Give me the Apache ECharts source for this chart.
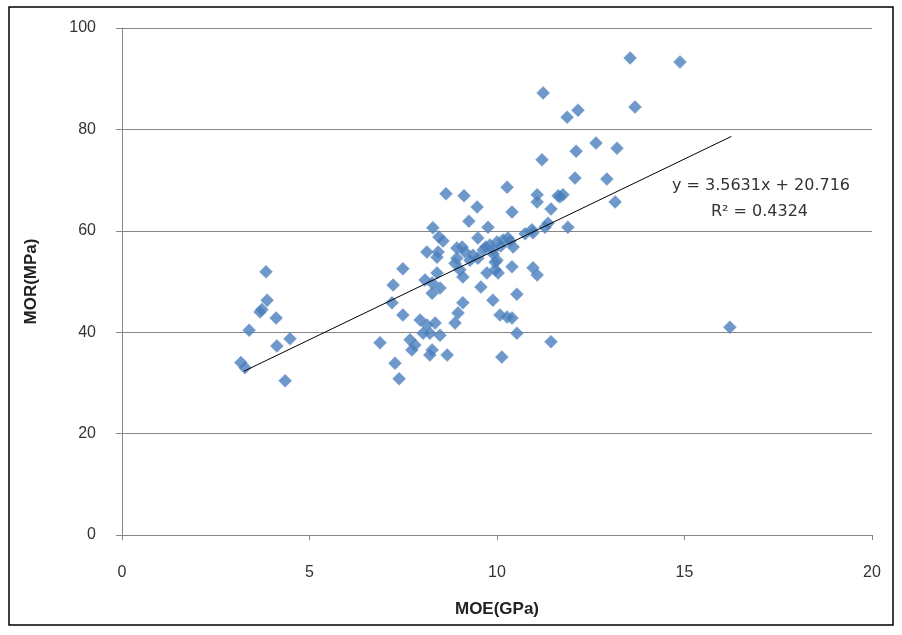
<!DOCTYPE html>
<html>
<head>
<meta charset="utf-8">
<script src="https://cdn.jsdelivr.net/npm/echarts@6/dist/echarts.min.js"></script>
<style>html,body{margin:0;padding:0;background:#fff;}#c{width:902px;height:635px;}</style>
</head>
<body>
<div id="c"></div>
<script>
const xTicks = [0, 5, 10, 15, 20];
const yTicks = [0, 20, 40, 60, 80, 100];
const moe = [3.84,3.87,3.73,3.68,4.11,3.39,4.48,4.13,3.17,3.28,4.35,
 8.64,9.12,10.27,9.47,11.07,11.07,11.63,10.4,11.44,9.25,8.29,9.76,8.45,8.56,9.49,8.93,9.07,9.15,8.13,8.43,8.4,10.0,10.16,10.29,10.43,9.81,9.63,9.89,9.36,9.49,9.28,8.93,8.88,10.96,11.28,11.36,10.4,10.96,11.07,9.01,9.09,10.0,9.95,9.73,10.03,7.49,7.23,8.08,8.4,8.27,8.48,8.27,9.57,10.53,9.89,9.09,8.96,8.88,10.08,10.27,10.4,7.2,7.49,7.95,8.13,8.35,8.03,8.21,8.48,7.68,7.81,7.73,8.27,8.21,8.67,6.88,7.28,7.39,10.53,10.13,11.44,
 10.93,9.95,10.1,9.7,10.35,9.9,10.75,
 11.23,11.87,12.16,13.68,12.64,12.11,13.2,11.2,12.08,12.93,11.76,11.68,13.15,11.89,13.55,14.88,16.21];
const mor = [51.9,46.3,44.5,44.0,42.8,40.4,38.7,37.3,34.0,33.0,30.4,
 67.3,66.9,68.6,64.7,67.1,65.7,66.9,63.7,64.3,61.9,60.6,60.7,58.8,58.0,58.6,56.6,56.8,55.8,55.8,55.8,54.8,57.8,58.2,58.6,56.8,57.2,56.2,56.2,55.2,54.6,54.2,54.6,53.6,59.6,60.7,61.5,52.9,52.7,51.3,52.3,50.9,54.2,52.3,51.7,51.7,52.5,49.3,50.3,51.7,49.7,48.7,47.7,48.9,47.5,46.3,45.8,43.8,41.8,43.4,43.0,42.8,45.8,43.4,42.4,41.4,41.8,39.8,39.8,39.4,38.5,37.5,36.5,36.5,35.5,35.5,37.9,33.9,30.8,39.8,35.1,38.1,
 60.2,53.8,57.0,56.8,58.0,55.4,59.4,
 87.2,82.4,83.8,84.4,77.3,75.7,76.3,74.0,70.4,70.2,67.1,66.7,65.7,60.7,94.1,93.3,41.0];
const slope = 3.5631, intercept = 20.716;
const trendX = [3.25, 16.25];
const eqText = 'y = 3.5631x + 20.716';
const r2Text = 'R² = 0.4324';

const pts = moe.map((v, i) => [v, mor[i]]);
const trend = trendX.map(x => [x, slope * x + intercept]);

const chart = echarts.init(document.getElementById('c'));
const font = 'Liberation Sans, Arial, sans-serif';
const font2 = 'DejaVu Sans, sans-serif';
chart.setOption({
  animation: false,
  grid: {left: 122, right: 30, top: 28, bottom: 100},
  xAxis: {
    type: 'value', min: 0, max: 20, interval: 5,
    axisLine: {show: true, onZero: false, lineStyle: {color: '#868686', width: 1}},
    axisTick: {show: true, length: 5, lineStyle: {color: '#868686'}},
    splitLine: {show: false},
    axisLabel: {margin: 30, color: '#333', fontSize: 16, fontFamily: font, formatter: v => xTicks.includes(v) ? String(v) : ''},
    name: 'MOE(GPa)', nameLocation: 'middle', nameGap: 66,
    nameTextStyle: {fontWeight: 'bold', fontSize: 17, color: '#222', fontFamily: font}
  },
  yAxis: {
    type: 'value', min: 0, max: 100, interval: 20,
    axisLine: {show: true, onZero: false, lineStyle: {color: '#868686', width: 1}},
    axisTick: {show: true, length: 6, lineStyle: {color: '#868686'}},
    splitLine: {show: true, lineStyle: {color: '#868686', width: 1}},
    axisLabel: {margin: 26, color: '#333', fontSize: 16, fontFamily: font, formatter: v => yTicks.includes(v) ? String(v) : ''},
    name: 'MOR(MPa)', nameLocation: 'middle', nameGap: 82, nameRotate: 90,
    nameTextStyle: {fontWeight: 'bold', fontSize: 17, color: '#222', fontFamily: font}
  },
  series: [
    {
      type: 'scatter', data: pts, symbol: 'diamond', symbolSize: 13,
      itemStyle: {color: '#4A7EBB', borderColor: '#6A96CC', borderWidth: 0.5}
    },
    {
      type: 'line', data: trend, symbol: 'none', z: 3,
      lineStyle: {color: '#000', width: 1}
    }
  ],
  graphic: [
    {type: 'rect', shape: {x: 9, y: 7, width: 884, height: 618}, style: {fill: 'none', stroke: '#000', lineWidth: 1.5}, silent: true},
    {type: 'text', right: 52, top: 178, style: {text: eqText, fontSize: 16, fontFamily: font2, fill: '#333', textAlign: 'right'}},
    {type: 'text', right: 94, top: 204, style: {text: r2Text, fontSize: 16, fontFamily: font2, fill: '#333', textAlign: 'right'}}
  ]
});
</script>
</body>
</html>
